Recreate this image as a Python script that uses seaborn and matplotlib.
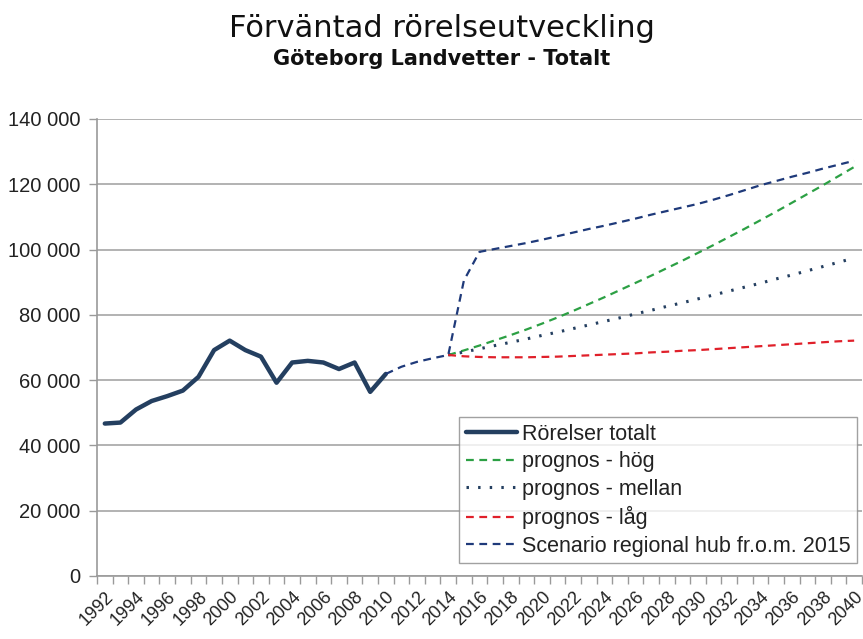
import matplotlib
matplotlib.use("Agg")
import matplotlib.pyplot as plt
import seaborn as sns
import numpy as np
import pandas as pd

hist_years = list(range(1992, 2011))
hist_values = [46700, 47000, 51000, 53600, 55100, 56800, 61000, 69200, 72100, 69200,
               67200, 59200, 65400, 65900, 65400, 63400, 65400, 56400, 61900]

fc_years = list(range(2014, 2041))
hog = [67700, 69100, 70600, 72200, 73800, 75500, 77300, 79200, 81200, 83300, 85400, 87600,
       89800, 92000, 94300, 96600, 99000, 101400, 103900, 106400, 109000, 111600, 114300,
       117000, 119700, 122500, 125300]
mellan = [67700, 68600, 69600, 70600, 71600, 72600, 73700, 74700, 75800, 76900, 78000, 79100,
          80300, 81400, 82600, 83700, 84900, 86100, 87300, 88500, 89700, 91000, 92200, 93500,
          94800, 96100, 97400]
lag = [67700, 67300, 67100, 67000, 67000, 67000, 67100, 67200, 67400, 67600, 67800, 68000,
       68200, 68500, 68700, 69000, 69200, 69500, 69800, 70100, 70400, 70700, 71000, 71300,
       71600, 71900, 72100]

sc_years = list(range(2010, 2041))
scenario = [61900, 64100, 65600, 66700, 67700, 90500, 99300, 100200, 101100, 102000, 103000,
            104100, 105200, 106300, 107300, 108400, 109500, 110700, 111800, 112900, 114000,
            115300, 116700, 118200, 119700, 121000, 122300, 123500, 124800, 126000, 127200]

labels = ["Rörelser totalt", "prognos - hög", "prognos - mellan", "prognos - låg",
          "Scenario regional hub fr.o.m. 2015"]
title = "Förväntad rörelseutveckling"
subtitle = "Göteborg Landvetter - Totalt"
yticks = list(range(0, 140001, 20000))
xtick_years = list(range(1992, 2041, 2))

sns.set_theme(style="white")
plt.rcParams['font.family'] = ['DejaVu Sans']
lab_font = ['Liberation Sans', 'DejaVu Sans']

fig = plt.figure(figsize=(8.63, 6.39), dpi=100)
ax = fig.add_axes([0.1124, 0.0986, 0.8864, 0.7152])

navy = "#243f60"
green = "#2ca044"
red = "#e0202a"
dnavy = "#1f3a7a"

sns.lineplot(x=hist_years, y=hist_values, ax=ax, color=navy, lw=3.2, label=labels[0])
sns.lineplot(x=fc_years, y=hog, ax=ax, color=green, lw=1.6, label=labels[1])
ax.lines[-1].set_linestyle((0, (3.5, 2.5)))
sns.lineplot(x=fc_years, y=mellan, ax=ax, color=navy, lw=2.2, label=labels[2])
ax.lines[-1].set_linestyle((0, (0.8, 3.0)))
sns.lineplot(x=fc_years, y=lag, ax=ax, color=red, lw=1.6, label=labels[3])
ax.lines[-1].set_linestyle((0, (3.5, 2.5)))
sns.lineplot(x=sc_years, y=scenario, ax=ax, color=dnavy, lw=1.6, label=labels[4])
ax.lines[-1].set_linestyle((0, (3.5, 2.5)))

ax.set_xlim(1991.5, 2040.5)
ax.set_ylim(0, 140000)
ax.set_yticks(yticks)
ax.set_yticklabels([f"{v:,}".replace(",", " ") for v in yticks], family=lab_font,
                   fontsize=14.5, color="#222222")
ax.set_xticks(xtick_years)
ax.set_xticklabels([str(y) for y in xtick_years], rotation=45, ha="right",
                   rotation_mode="anchor", family=lab_font, fontsize=13, color="#222222")
ax.set_xticks(np.arange(1991.5, 2041, 1), minor=True)
ax.tick_params(axis="x", which="major", length=0, pad=9)
ax.tick_params(axis="x", which="minor", length=6, color="#9a9a9a", width=1, direction="out", bottom=True)
ax.tick_params(axis="y", length=6, color="#9a9a9a", width=1, direction="out", left=True, pad=6)
ax.yaxis.grid(True, color="#a6a6a6", lw=1.2)
ax.xaxis.grid(False)
for s in ["top", "right"]:
    ax.spines[s].set_visible(False)
for s in ["left", "bottom"]:
    ax.spines[s].set_color("#9a9a9a")
    ax.spines[s].set_linewidth(1.2)
ax.set_xlabel("")
ax.set_ylabel("")

leg = ax.legend(loc="lower right", bbox_to_anchor=(0.993, 0.028), frameon=True, fancybox=False,
                prop={"family": lab_font, "size": 15.5}, handlelength=2.4, handletextpad=0.2,
                labelspacing=0.3, borderpad=0.3, borderaxespad=0)
leg.get_frame().set_edgecolor("#8a8a8a")
leg.get_frame().set_linewidth(1.0)
for t in leg.get_texts():
    t.set_color("#222222")

fig.text(0.512, 0.956, title, ha="center", va="center", fontsize=22, color="#111111")
fig.text(0.512, 0.908, subtitle, ha="center", va="center", fontsize=15, fontweight="bold",
         color="#111111")

fig.savefig("out.png", dpi=100)
